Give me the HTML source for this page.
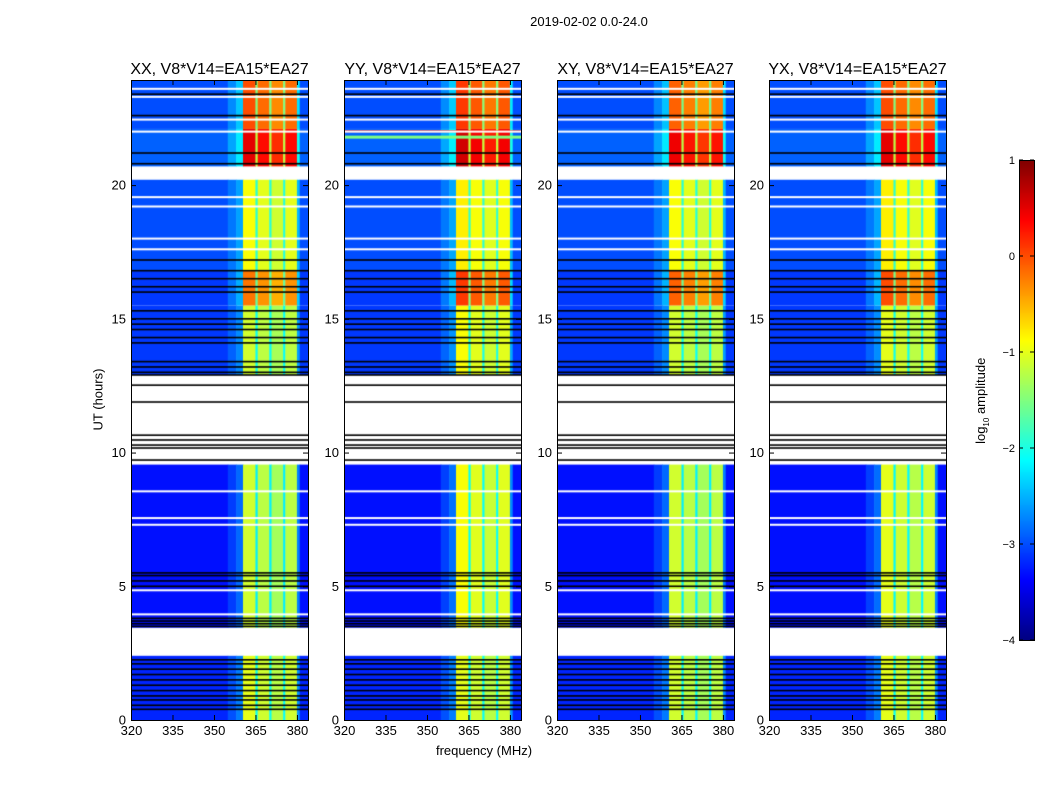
<!DOCTYPE html>
<html><head><meta charset="utf-8">
<style>
html,body{margin:0;padding:0;background:#fff;}
#root{position:relative;width:1050px;height:800px;overflow:hidden;font-family:"Liberation Sans","DejaVu Sans",sans-serif;}
canvas{position:absolute;}
.t{position:absolute;white-space:nowrap;color:#000;}
</style></head>
<body>
<div id="root">
<div class="t" style="left:0;width:1178px;text-align:center;top:14px;font-size:13px;">2019-02-02 0.0-24.0</div>
<div class="t" style="left:384px;width:200px;text-align:center;top:743px;font-size:13px;">frequency (MHz)</div>
<div class="t" style="left:48px;top:392px;width:100px;text-align:center;font-size:13px;transform:rotate(-90deg);">UT (hours)</div>
<div class="t" style="left:932px;top:392px;width:100px;text-align:center;font-size:13px;transform:rotate(-90deg);">log<sub style="font-size:8px">10</sub> amplitude</div>
<svg id="ov" width="1050" height="800" style="position:absolute;left:0;top:0;pointer-events:none"></svg>
</div>
<script>
// ---- data ----
const panelTitles = ["XX, V8*V14=EA15*EA27","YY, V8*V14=EA15*EA27","XY, V8*V14=EA15*EA27","YX, V8*V14=EA15*EA27"];
const xTicks = [320,335,350,365,380];
const yTicks = [0,5,10,15,20];
const cbTicks = [1,0,-1,-2,-3,-4];
// frequency bin edges (MHz) and RFI shape per bin
const freqEdges = [320,355,358,360.5,365,365.8,370,370.8,375,375.8,380,381,384];
const rfiShape  = [0,0.1,0.2,1,0.5,0.95,0.5,0.9,0.5,0.95,0.25,0];
// time blocks with data (hours)
const blockStart = [0,3.45,12.9,15.5,16.8,20.7,22.1];
const blockEnd   = [2.4,9.55,15.5,16.8,20.2,22.1,23.95];
const blockBg    = [-3.2,-3.3,-3.1,-3.1,-3.0,-2.9,-3.0];
const rfiXX = [-1.0,-1.1,-1.1,-0.2,-0.9,0.5,0.0];
const rfiYY = [-1.0,-0.9,-0.9,0.1,-0.8,0.6,0.1];
const rfiXY = [-1.1,-1.1,-1.1,-0.1,-0.9,0.45,-0.1];
const rfiYX = [-1.0,-1.0,-1.0,0.0,-0.8,0.5,0.0];
// missing (white) single-row hours
const whiteLines = [3.95,4.85,7.3,7.55,8.55,17.6,18.0,19.2,19.55,22.0,22.45,23.3,23.6];
// flagged (black) line hours
const blackLines = [0.4,0.55,0.75,0.9,1.1,1.3,1.5,1.7,1.9,2.1,2.25,3.5,3.6,3.7,3.8,5.0,5.2,5.4,5.5,
  9.72,10.17,10.28,10.47,10.65,11.89,12.52,12.9,13.0,13.2,13.4,14.1,14.3,14.6,14.8,15.0,15.3,
  16.0,16.2,16.5,16.8,17.2,20.8,21.2,22.6,23.4];
const rfiSets = [rfiXX,rfiYY,rfiXY,rfiYX];

// ---- layout ----
const panelX = [131,344,557,769], PW=177, PT=80, PB=720;
const fMin=320,fMax=384,tMin=0,tMax=23.93;
const xs = f => (f-fMin)/(fMax-fMin)*PW;
const ys = h => (PB-PT) - (h-tMin)/(tMax-tMin)*(PB-PT);
const vmin=-4,vmax=1;
function jet(v){
  let x=Math.max(0,Math.min(1,(v-vmin)/(vmax-vmin)));
  const c=t=>Math.round(255*Math.max(0,Math.min(1,1.5-Math.abs(4*x-t))));
  return `rgb(${c(3)},${c(2)},${c(1)})`;
}
const root=document.getElementById('root');
const ov=document.getElementById('ov');
const NS='http://www.w3.org/2000/svg';
function sv(tag,attrs){const e=document.createElementNS(NS,tag);for(const k in attrs)e.setAttribute(k,attrs[k]);ov.appendChild(e);return e;}
function txt(s,x,y,anchor,size,name){
  const e=sv('text',{x:x,y:y,'text-anchor':anchor,'font-size':size,'font-family':'Liberation Sans, sans-serif'});
  e.textContent=s;
  
  
  return e;
}
panelX.forEach((px,p)=>{
  const cv=document.createElement('canvas');
  cv.width=PW;cv.height=PB-PT;
  cv.style.left=px+'px';cv.style.top=PT+'px';
  
  
  root.insertBefore(cv,ov);
  const g=cv.getContext('2d');
  g.fillStyle='#fff';g.fillRect(0,0,PW,PB-PT);
  const rfi=rfiSets[p];
  blockStart.forEach((bs,b)=>{
    const y0=ys(blockEnd[b]),y1=ys(bs);
    for(let i=0;i<rfiShape.length;i++){
      const s=rfiShape[i];
      const v=blockBg[b]+(rfi[b]-blockBg[b])*s;
      g.fillStyle=jet(v);
      const x0=xs(freqEdges[i]),x1=xs(freqEdges[i+1]);
      g.fillRect(x0,y0,x1-x0+0.5,y1-y0);
    }
  });
  if(p===1){ // YY broadband red stripe
    g.fillStyle=jet(0.3);g.fillRect(0,ys(22.05),PW,2);
    g.fillStyle=jet(-1.5);g.fillRect(0,ys(21.85),PW,3);
  }
  g.fillStyle='#fff';
  whiteLines.forEach(h=>g.fillRect(0,ys(h)-1,PW,2));
  g.fillStyle='#000';
  blackLines.forEach(h=>g.fillRect(0,ys(h)-0.8,PW,1.6));
  sv('rect',{x:px+0.5,y:PT+0.5,width:PW,height:PB-PT,fill:'none',stroke:'#000','stroke-width':1});
  txt(panelTitles[p],px+PW/2,74,'middle',16,'panel-title-'+(p+1));
  xTicks.forEach(f=>{
    const x=px+xs(f)+0.5;
    sv('line',{x1:x,y1:PB,x2:x,y2:PB-5,stroke:'#000'});
    sv('line',{x1:x,y1:PT,x2:x,y2:PT+5,stroke:'#000'});
    txt(String(f),x,PB+15,'middle',13,'x-tick-label');
  });
  yTicks.forEach(h=>{
    const y=PT+ys(h)+0.5;
    sv('line',{x1:px,y1:y,x2:px+5,y2:y,stroke:'#000'});
    sv('line',{x1:px+PW,y1:y,x2:px+PW-5,y2:y,stroke:'#000'});
    txt(String(h),px-5,y+4,'end',13,'y-tick-label');
  });
});
// colorbar
const cbX=1019,cbW=15,cbT=160,cbB=640;
const cb=document.createElement('canvas');
cb.width=cbW;cb.height=cbB-cbT;cb.style.left=cbX+'px';cb.style.top=cbT+'px';


root.insertBefore(cb,ov);
const cg=cb.getContext('2d');
for(let i=0;i<cbB-cbT;i++){cg.fillStyle=jet(vmax-(vmax-vmin)*i/(cbB-cbT));cg.fillRect(0,i,cbW,1);}
sv('rect',{x:cbX+0.5,y:cbT+0.5,width:cbW,height:cbB-cbT,fill:'none',stroke:'#000'});
cbTicks.forEach(v=>{
  const y=cbT+(vmax-v)/(vmax-vmin)*(cbB-cbT);
  sv('line',{x1:cbX,y1:y,x2:cbX+4,y2:y,stroke:'#000'});
  sv('line',{x1:cbX+cbW,y1:y,x2:cbX+cbW-4,y2:y,stroke:'#000'});
  txt(v<0?'\u2212'+(-v):String(v),cbX-4,y+4,'end',11,'colorbar-tick-label');
});
</script>
</body></html>
